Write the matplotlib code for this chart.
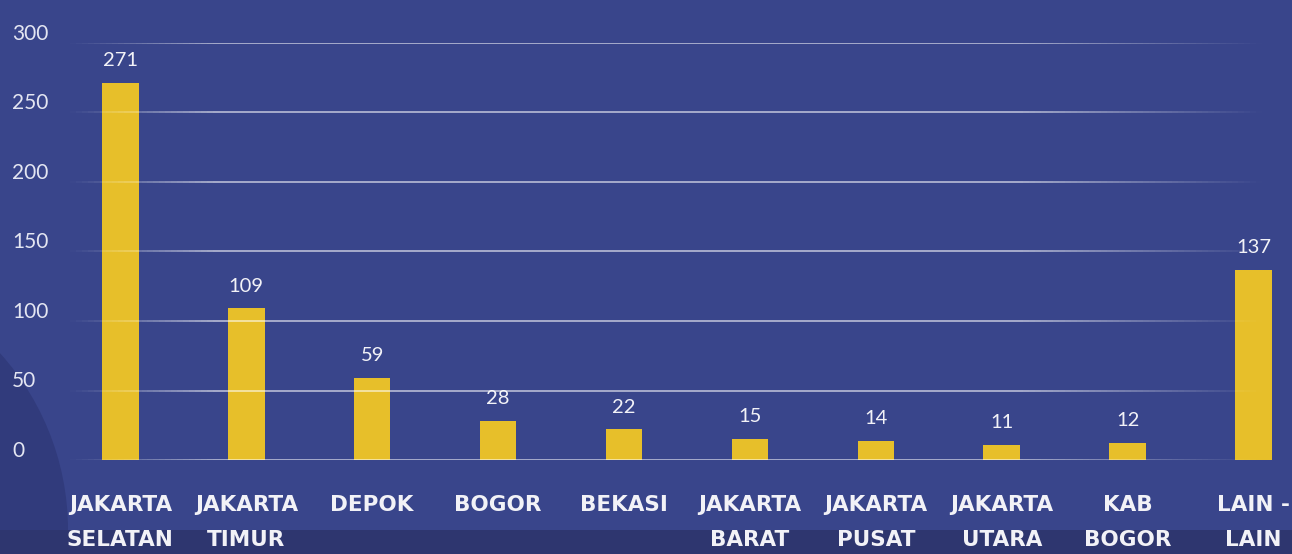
import numpy as np
import matplotlib.pyplot as plt
from matplotlib.collections import LineCollection
from matplotlib.patches import Ellipse, Rectangle

regions = ['JAKARTA\nSELATAN', 'JAKARTA\nTIMUR', 'DEPOK', 'BOGOR', 'BEKASI',
           'JAKARTA\nBARAT', 'JAKARTA\nPUSAT', 'JAKARTA\nUTARA', 'KAB\nBOGOR', 'LAIN -\nLAIN']
counts = [271, 109, 59, 28, 22, 15, 14, 11, 12, 137]
yticks = [0, 50, 100, 150, 200, 250, 300]

BG = '#39458b'
BAR = '#e7bf2a'
TXT = '#f2f2f7'

W, H = 1292, 554
fig = plt.figure(figsize=(W / 100, H / 100), dpi=100, facecolor=BG)

# decorative shapes behind the chart
fig.patches.append(Ellipse((-196 / W, (H - 530) / H), 2 * 264 / W, 2 * 264 / H,
                           transform=fig.transFigure, facecolor='#313b7c',
                           edgecolor='none', zorder=-2))
fig.patches.append(Rectangle((0, 0), 1, 24 / H, transform=fig.transFigure,
                             facecolor='#2e366f', edgecolor='none', zorder=-1))

ax = fig.add_axes([70 / W, (H - 460) / H, 1210 / W, 417 / H])
ax.set_facecolor('none')
ax.set_zorder(1)

x = np.arange(len(regions))
ax.bar(x, counts, width=0.29, color=BAR, zorder=2)

for xi, v in zip(x, counts):
    ax.annotate(str(v), (xi, v), xytext=(0, 10), textcoords='offset points',
                ha='center', va='bottom', color=TXT, fontsize=14.5,
                family=['Lato', 'DejaVu Sans'])

# grid lines that fade out at both ends
n = 200
xs = np.linspace(0, 0.985, n + 1)
mid = (xs[:-1] + xs[1:]) / 2
alpha = np.clip(np.minimum(mid / 0.12, (0.985 - mid) / 0.2), 0, 1) * 0.55
colors = [(1, 1, 1, a) for a in alpha]
for yv in yticks:
    segs = [[(xs[i], yv), (xs[i + 1], yv)] for i in range(n)]
    lc = LineCollection(segs, colors=colors, linewidths=1.4,
                        transform=ax.get_yaxis_transform(), zorder=3)
    ax.add_collection(lc)
    ax.annotate(str(yv), (0, yv), xycoords=('figure fraction', 'data'),
                xytext=(12 / 100 * 72, 6.5), textcoords='offset points',
                ha='left', va='center', color='#e4e6f2', fontsize=15,
                family=['Lato', 'DejaVu Sans'], annotation_clip=False)

ax.set_xlim(-0.40, 9.21)
ax.set_ylim(0, 300)
ax.set_yticks([])
ax.set_xticks(x)
ax.set_xticklabels(regions, color=TXT, fontsize=15.5, fontweight='bold',
                   family='DejaVu Sans', linespacing=1.95)
ax.tick_params(axis='x', length=0, pad=25)
for s in ax.spines.values():
    s.set_visible(False)

fig.savefig('out.png', dpi=100, facecolor=BG)
